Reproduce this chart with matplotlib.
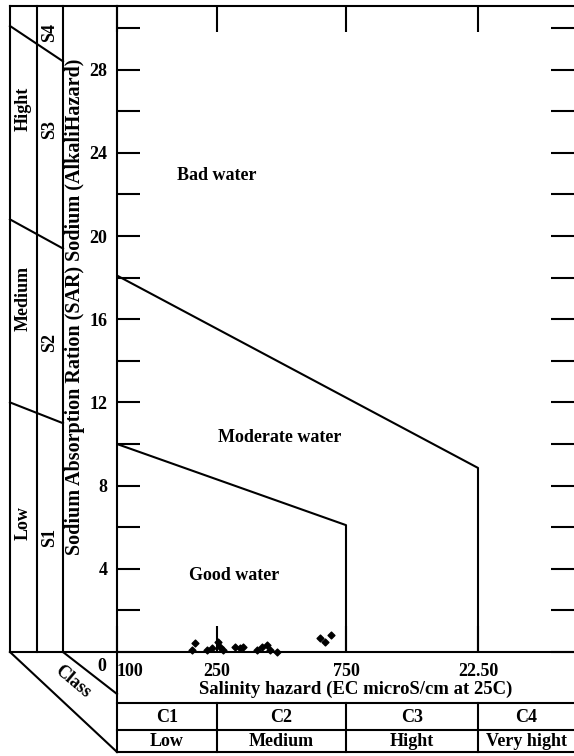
import numpy as np
import matplotlib.pyplot as plt
import matplotlib.transforms as mtransforms
from matplotlib.ticker import NullLocator

plt.rcParams['font.family'] = ['Liberation Serif', 'DejaVu Serif']
plt.rcParams['font.weight'] = 'bold'
plt.rcParams['font.size'] = 13

# salinity classes (EC microS/cm) and where each edge sits along the x axis
ec_edges = [100, 250, 750, 2250, 5000]
edge_pos = [0, 100, 229, 361, 457]
ec_ticks = [100, 250, 750, 2250]
ec_tick_labels = ['100', '250', '750', '22.50']
c_class = ['C1', 'C2', 'C3', 'C4']
c_names = ['Low', 'Medium', 'Hight', 'Very hight']

# sodium (SAR) axis
sar_major = [0, 4, 8, 12, 16, 20, 24, 28]
sar_minor = [2, 6, 10, 14, 18, 22, 26, 30]
sar_top = 31.06

# water quality boundaries
good_ec = [100, 750, 750]
good_sar = [10.0, 6.1, 0]
mod_ec = [100, 2250, 2250]
mod_sar = [18.1, 8.85, 0]

# sodium classes on the left strip (SAR at left edge / right edge)
s_class = ['S1', 'S2', 'S3', 'S4']
s_names = ['Low', 'Medium', 'Hight']
s_left = [12.0, 20.8, 30.1]
s_right = [11.0, 19.4, 28.4]

# samples
ec = [199, 204, 228, 239, 252, 257, 263, 291, 304, 312, 351, 367, 383, 393, 417,
      601, 627, 660]
sar = [0.1, 0.43, 0.1, 0.2, 0.48, 0.24, 0.1, 0.24, 0.2, 0.24, 0.1, 0.24, 0.34, 0.1,
       0.02, 0.67, 0.48, 0.82]

W, H = 574, 756
fig = plt.figure(figsize=(W / 100, H / 100), dpi=100)


def frac(x0, y0, x1, y1):
    return [x0 / W, 1 - y1 / H, (x1 - x0) / W, (y1 - y0) / H]


ax = fig.add_axes(frac(117, 6, 574, 652))
lo = np.log10(ec_edges)


def fwd(x):
    return np.interp(np.log10(np.clip(x, 1e-6, None)), lo, edge_pos)


def inv(p):
    return 10 ** np.interp(p, edge_pos, lo)


ax.set_xscale('function', functions=(fwd, inv))
ax.set_xlim(100, 5000)
ax.set_ylim(0, sar_top)
lw = 1.5
for s in ['left', 'top', 'bottom']:
    ax.spines[s].set_linewidth(lw)
ax.spines['right'].set_visible(False)

ax.set_xticks(ec_ticks)
ax.set_xticklabels(ec_tick_labels)
ax.xaxis.set_minor_locator(NullLocator())
ax.get_xticklabels()[0].set_ha('left')
ax.set_yticks(sar_major)
ax.set_yticklabels([''] + [str(v) for v in sar_major[1:]])
ax.set_yticks(sar_minor, minor=True)
ax.tick_params(axis='x', which='both', direction='in', length=19, width=lw,
               top=True, pad=8)
ax.tick_params(axis='y', which='both', direction='in', length=16.5, width=lw,
               right=True, pad=7)
ax.annotate('0', xy=(0, 0), xycoords='axes fraction', xytext=(-11, -6),
            textcoords='offset pixels', ha='right', va='top')

ax.plot(good_ec, good_sar, color='black', lw=lw)
ax.plot(mod_ec, mod_sar, color='black', lw=lw)
ax.scatter(ec, sar, marker='D', s=12, color='black', clip_on=False, zorder=5)

ax.text(250, 22.9, 'Bad water', ha='center', va='center')
ax.text(428, 10.3, 'Moderate water', ha='center', va='center')
ax.text(289, 3.7, 'Good water', ha='center', va='center')

# overlay in pixel coordinates for the frame around the plot
ov = fig.add_axes([0, 0, 1, 1], zorder=3)
ov.set_xlim(0, W)
ov.set_ylim(H, 0)
ov.axis('off')
kw = dict(color='black', lw=lw, solid_capstyle='projecting')
ov.plot([10, 117], [6, 6], **kw)
ov.plot([10, 117], [652, 652], **kw)
for x in [10, 37, 63]:
    ov.plot([x, x], [6, 652], **kw)
ov.plot([117, 117], [652, 752], **kw)
ov.plot([10, 117], [652, 752], color='black', lw=lw)
ov.plot([63, 117], [652, 694], color='black', lw=lw)
for y in [703, 730, 752]:
    ov.plot([117, 574], [y, y], **kw)
ov.text(73, 682, 'Class', rotation=-40, ha='center', va='center', fontsize=13)

# sodium class strip
strip = mtransforms.blended_transform_factory(ov.transData, ax.transData)
for l, r in zip(s_left, s_right):
    ov.plot([10, 63], [l, r], color='black', lw=lw, transform=strip)
for name, y in zip(s_names, [6.2, 17.0, 26.1]):
    ov.text(23, y, name, rotation=90, ha='center', va='center', transform=strip)
for name, y in zip(s_class, [5.5, 14.9, 25.1, 29.8]):
    ov.text(50, y, name, rotation=90, ha='center', va='center', transform=strip)
ov.text(75, 307, 'Sodium Absorption Ration (SAR) Sodium (AlkaliHazard)',
        rotation=90, ha='center', va='center', fontsize=14.5)

# salinity class table
tab = mtransforms.blended_transform_factory(ax.transData, ov.transData)
for x in ec_edges[1:-1]:
    ov.plot([x, x], [703, 752], color='black', lw=lw, transform=tab)
for i in range(4):
    xc = np.sqrt(ec_edges[i] * ec_edges[i + 1])
    ov.text(xc, 717, c_class[i], ha='center', va='center', transform=tab)
    ov.text(xc, 742, c_names[i], ha='center', va='center', transform=tab)
ov.text(356, 689, 'Salinity hazard (EC microS/cm at 25C)', ha='center',
        va='center', fontsize=13.5)

fig.savefig('out.png', dpi=100)
